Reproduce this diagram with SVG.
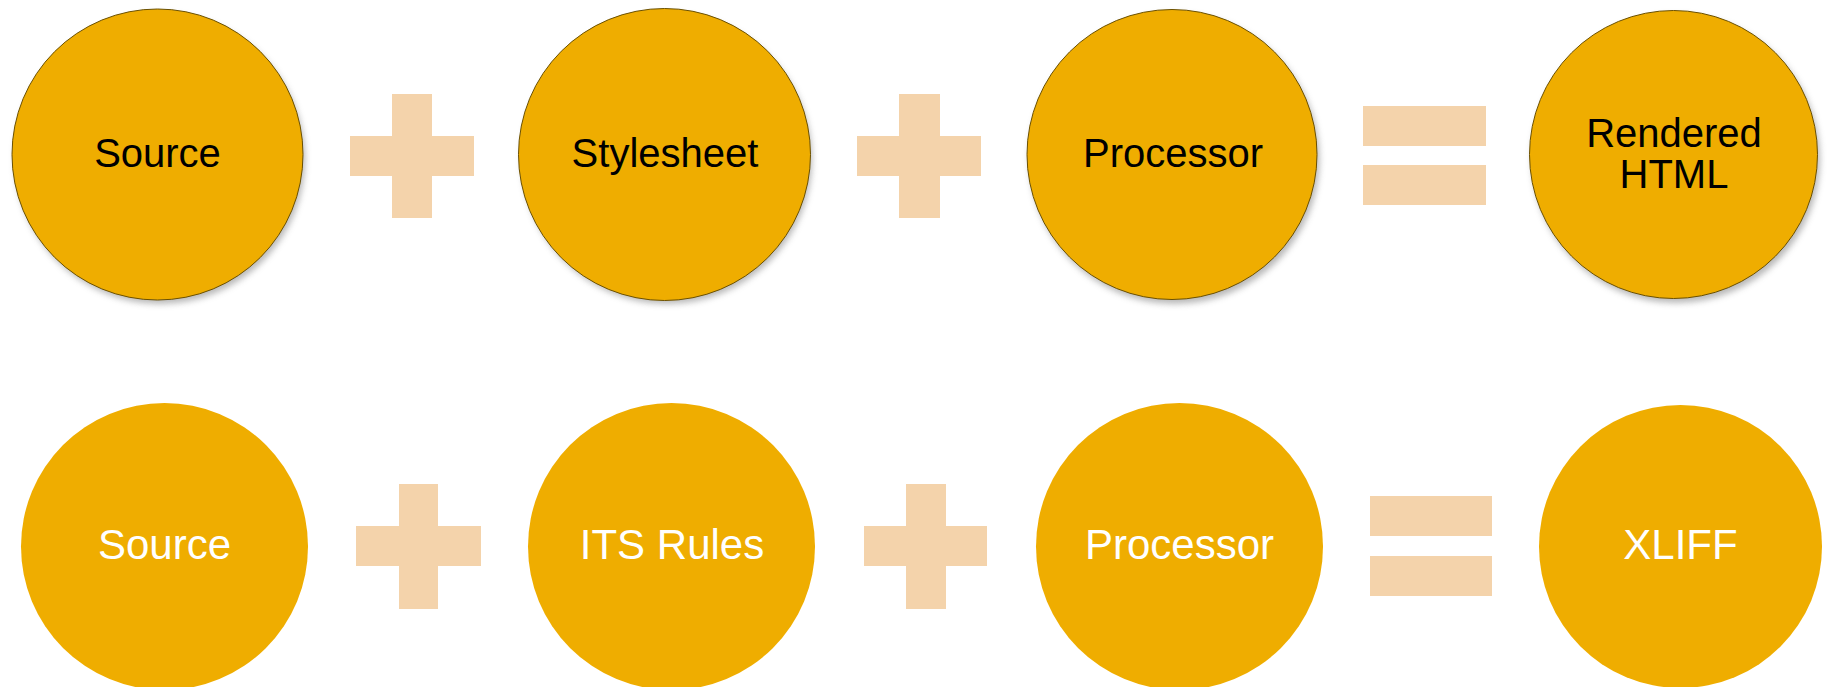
<svg xmlns="http://www.w3.org/2000/svg" width="1831" height="687" viewBox="0 0 1831 687">
<defs>
<filter id="sh" x="-20%" y="-20%" width="140%" height="140%">
<feGaussianBlur stdDeviation="3"/>
</filter>
</defs>
<style>
.c{fill:#EFAD00}
.ct{fill:#EFAD00;stroke:#6b5000;stroke-width:1}
.s{fill:#9a9a9a;opacity:0.7;filter:url(#sh)}
.op{fill:#F4D3AB}
.tb{font-family:"Liberation Sans",Arial,sans-serif;font-size:40px;fill:#000;text-anchor:middle}
.tw{font-family:"Liberation Sans",Arial,sans-serif;font-size:42px;fill:#fff;text-anchor:middle}
</style>
<rect width="1831" height="687" fill="#fff"/>
<g id="top-source"><circle class="s" cx="160" cy="159" r="145"/><circle class="ct" cx="157.5" cy="154.5" r="145.5"/><text class="tb" x="157.5" y="167">Source</text></g>
<g id="top-plus-1"><rect class="op" x="350" y="136" width="124" height="40"/><rect class="op" x="392" y="94" width="40" height="124"/></g>
<g id="top-stylesheet"><circle class="s" cx="667" cy="159" r="145"/><circle class="ct" cx="664.5" cy="154.5" r="146"/><text class="tb" x="665" y="167">Stylesheet</text></g>
<g id="top-plus-2"><rect class="op" x="857" y="136" width="124" height="40"/><rect class="op" x="899" y="94" width="41" height="124"/></g>
<g id="top-processor"><circle class="s" cx="1174.5" cy="159" r="145"/><circle class="ct" cx="1172" cy="154.5" r="145"/><text class="tb" x="1173" y="167">Processor</text></g>
<g id="top-equals"><rect class="op" x="1363" y="106" width="123" height="40"/><rect class="op" x="1363" y="165" width="123" height="40"/></g>
<g id="top-rendered"><circle class="s" cx="1676" cy="159" r="144"/><circle class="ct" cx="1673.5" cy="154.5" r="144"/><text class="tb" x="1674" y="147">Rendered</text><text class="tb" x="1674" y="188">HTML</text></g>
<g id="bot-source"><circle class="c" cx="164.5" cy="546.5" r="143.5"/><text class="tw" x="164.5" y="559">Source</text></g>
<g id="bot-plus-1"><rect class="op" x="356" y="526" width="125" height="40"/><rect class="op" x="399" y="484" width="39" height="125"/></g>
<g id="bot-its"><circle class="c" cx="671.5" cy="546.5" r="143.5"/><text class="tw" x="672" y="559">ITS Rules</text></g>
<g id="bot-plus-2"><rect class="op" x="864" y="526" width="123" height="40"/><rect class="op" x="906" y="484" width="40" height="125"/></g>
<g id="bot-processor"><circle class="c" cx="1179.5" cy="546.5" r="143.5"/><text class="tw" x="1179.5" y="559">Processor</text></g>
<g id="bot-equals"><rect class="op" x="1370" y="496" width="122" height="40"/><rect class="op" x="1370" y="556" width="122" height="40"/></g>
<g id="bot-xliff"><circle class="c" cx="1680.5" cy="546.5" r="141.5"/><text class="tw" x="1680.5" y="559">XLIFF</text></g>
<g id="connectors"></g>
</svg>
